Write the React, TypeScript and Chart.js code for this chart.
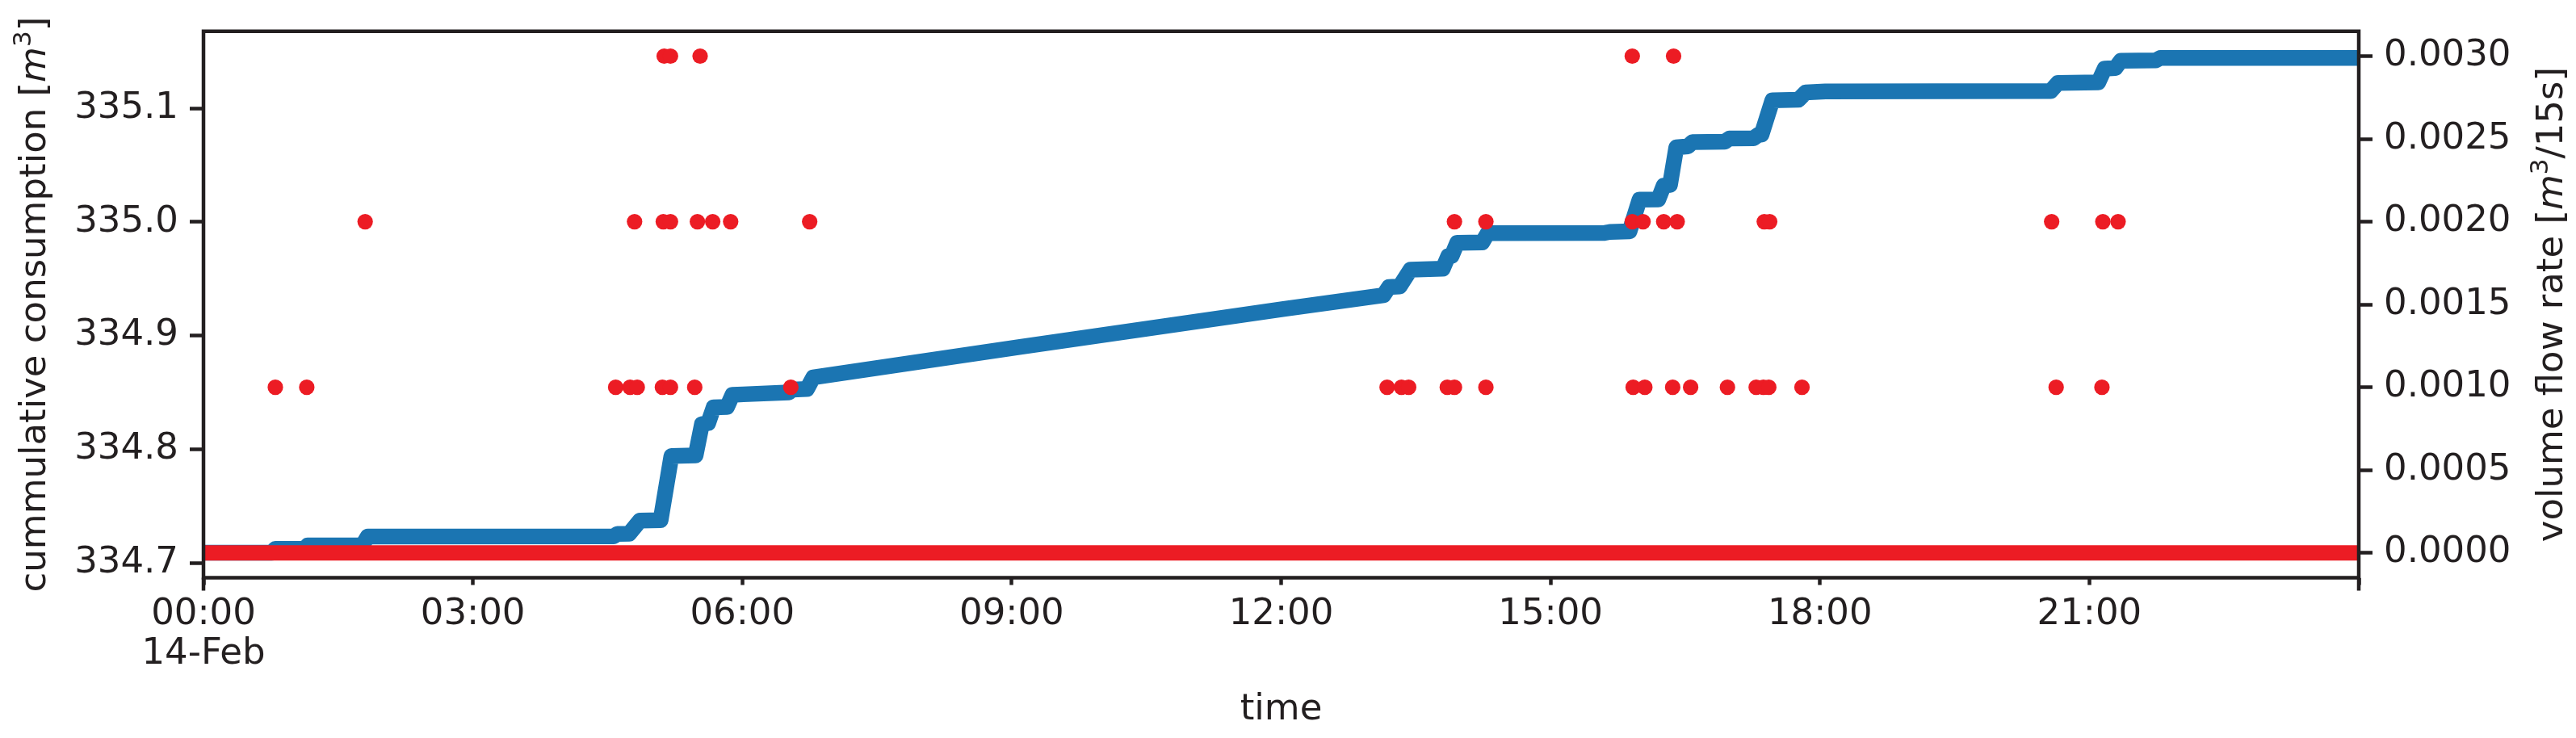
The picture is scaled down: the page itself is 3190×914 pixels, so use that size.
import React, { useEffect, useRef } from "react";
import { Chart, registerables } from "chart.js";

Chart.register(...registerables);

// ---------- data ----------
const xTickHours = [0, 3, 6, 9, 12, 15, 18, 21, 24];
const xTickLabels: (string | string[])[] = [
  ["00:00", "14-Feb"], "03:00", "06:00", "09:00", "12:00", "15:00", "18:00", "21:00", "",
];
const leftTicks = [334.7, 334.8, 334.9, 335.0, 335.1];
const rightTicks = [0, 0.0005, 0.001, 0.0015, 0.002, 0.0025, 0.003];

const consumptionHours = [
  0.0, 0.76, 0.8, 1.13, 1.16, 1.77, 1.83, 4.57, 4.61, 4.74, 4.86, 5.09, 5.21, 5.48, 5.55,
  5.62, 5.68, 5.83, 5.89, 6.01, 6.52, 6.56, 6.72, 6.79, 9.08, 12.03, 13.14, 13.2, 13.32,
  13.44, 13.8, 13.86, 13.9, 13.96, 14.24, 14.3, 15.6, 15.66, 15.88, 15.99, 16.2, 16.26,
  16.33, 16.4, 16.53, 16.58, 16.94, 16.99, 17.26, 17.31, 17.35, 17.47, 17.76, 17.84, 18.06,
  20.57, 20.65, 21.1, 21.17, 21.29, 21.35, 21.74, 21.79, 24.0,
];
const consumptionValues = [
  334.709, 334.709, 334.7123, 334.7125, 334.7153, 334.7155, 334.7232, 334.7234, 334.7254,
  334.7256, 334.7372, 334.7375, 334.794, 334.7945, 334.822, 334.823, 334.8368, 334.8372,
  334.8478, 334.8483, 334.85, 334.8525, 334.853, 334.8632, 334.8898, 334.9235, 334.9355,
  334.9427, 334.9432, 334.958, 334.9588, 334.9699, 334.9702, 334.9816, 334.982, 334.9901,
  334.9903, 334.9912, 334.9918, 335.0196, 335.0198, 335.032, 335.0325, 335.0656, 335.0665,
  335.0703, 335.0706, 335.0734, 335.0737, 335.0765, 335.077, 335.107, 335.1075, 335.1139,
  335.1149, 335.1152, 335.1223, 335.1228, 335.135, 335.1355, 335.1419, 335.1422, 335.1444,
  335.1444,
];

// non-zero flow readings
const flowHours = [
  0.8, 1.15, 4.59, 4.75, 4.83, 5.11, 5.2, 5.47, 6.54, 13.18, 13.34, 13.42, 13.85, 13.93,
  14.28, 15.92, 16.05, 16.36, 16.56, 16.97, 17.29, 17.37, 17.43, 17.8, 20.63, 21.14,
  1.8, 4.8, 5.12, 5.2, 5.5, 5.67, 5.87, 6.75, 13.93, 14.28, 15.91, 16.03, 16.26, 16.41,
  17.38, 17.44, 20.58, 21.15, 21.32,
  5.13, 5.2, 5.53, 15.91, 16.37,
];
const flowValues = [
  0.001, 0.001, 0.001, 0.001, 0.001, 0.001, 0.001, 0.001, 0.001, 0.001, 0.001, 0.001,
  0.001, 0.001, 0.001, 0.001, 0.001, 0.001, 0.001, 0.001, 0.001, 0.001, 0.001, 0.001,
  0.001, 0.001,
  0.002, 0.002, 0.002, 0.002, 0.002, 0.002, 0.002, 0.002, 0.002, 0.002, 0.002, 0.002,
  0.002, 0.002, 0.002, 0.002, 0.002, 0.002, 0.002,
  0.003, 0.003, 0.003, 0.003, 0.003,
];
// zero readings cover the whole day
const zeroFlowHours = [0, 24];
const zeroFlowValues = [0, 0];

// ---------- styles ----------
const INK = "#231f20";
const BLUE = "#1b75b2";
const RED = "#ec1c24";
const FONT = "DejaVu Sans";
const FS = 45;

type Part = { t: string; italic?: boolean; sup?: boolean };
const leftTitle: Part[] = [
  { t: "cummulative consumption [" },
  { t: "m", italic: true },
  { t: "3", sup: true },
  { t: "]" },
];
const rightTitle: Part[] = [
  { t: "volume flow rate [" },
  { t: "m", italic: true },
  { t: "3", sup: true },
  { t: "/15s]" },
];

function partFont(p: Part) {
  if (p.sup) return `${Math.round(FS * 0.7)}px "${FONT}"`;
  return `${p.italic ? "italic " : ""}${FS}px "${FONT}"`;
}

function drawRotatedTitle(ctx: CanvasRenderingContext2D, parts: Part[], baselineX: number, centerY: number) {
  ctx.save();
  ctx.translate(baselineX, centerY);
  ctx.rotate(-Math.PI / 2);
  ctx.fillStyle = INK;
  ctx.textBaseline = "alphabetic";
  ctx.textAlign = "left";
  let total = 0;
  const widths = parts.map((p) => {
    ctx.font = partFont(p);
    const w = ctx.measureText(p.t).width;
    total += w;
    return w;
  });
  let x = -total / 2;
  parts.forEach((p, i) => {
    ctx.font = partFont(p);
    ctx.fillText(p.t, x, p.sup ? -FS * 0.4 : 0);
    x += widths[i];
  });
  ctx.restore();
}

const framePlugin = {
  id: "frame",
  afterDraw(chart: any) {
    const { ctx, chartArea: a } = chart;
    ctx.save();
    ctx.strokeStyle = INK;
    ctx.lineWidth = 4.5;
    ctx.lineCap = "butt";
    ctx.lineJoin = "miter";
    ctx.strokeRect(a.left, a.top, a.right - a.left, a.bottom - a.top);
    ctx.beginPath();
    ctx.moveTo(a.left, a.bottom);
    ctx.lineTo(a.left, a.bottom + 16);
    ctx.moveTo(a.right, a.bottom);
    ctx.lineTo(a.right, a.bottom + 16);
    ctx.stroke();
    ctx.restore();
    const cy = (a.top + a.bottom) / 2;
    drawRotatedTitle(ctx, leftTitle, 56, cy);
    drawRotatedTitle(ctx, rightTitle, 3173, cy);
  },
};

export default function App() {
  const ref = useRef<HTMLCanvasElement>(null);

  useEffect(() => {
    const canvas = ref.current;
    if (!canvas) return;
    const tickFont = { family: FONT, size: FS, lineHeight: 1.1 };
    const chart = new Chart(canvas, {
      type: "scatter",
      data: {
        datasets: [
          {
            type: "scatter",
            label: "flow",
            data: flowHours.map((h, i) => ({ x: h, y: flowValues[i] })),
            yAxisID: "y1",
            backgroundColor: RED,
            borderWidth: 0,
            pointRadius: 9.6,
            order: 0,
          } as any,
          {
            type: "line",
            label: "flow zero",
            data: zeroFlowHours.map((h, i) => ({ x: h, y: zeroFlowValues[i] })),
            yAxisID: "y1",
            borderColor: RED,
            borderWidth: 19,
            borderCapStyle: "butt",
            pointRadius: 0,
            tension: 0,
            clip: 0,
            order: 1,
          } as any,
          {
            type: "line",
            label: "consumption",
            data: consumptionHours.map((h, i) => ({ x: h, y: consumptionValues[i] })),
            yAxisID: "y",
            borderColor: BLUE,
            borderWidth: 19.5,
            borderCapStyle: "round",
            borderJoinStyle: "round",
            pointRadius: 0,
            tension: 0,
            clip: 0,
            order: 2,
          } as any,
        ],
      },
      options: {
        responsive: false,
        devicePixelRatio: 1,
        animation: false,
        events: [],
        layout: { padding: { top: 26.5, left: 0, right: 0, bottom: 0 } },
        plugins: { legend: { display: false }, tooltip: { enabled: false } },
        scales: {
          x: {
            type: "linear",
            position: "bottom",
            min: 0,
            max: 24,
            afterFit: (s: any) => {
              s.height = 198.5;
            },
            afterBuildTicks: (s: any) => {
              s.ticks = xTickHours.map((v) => ({ value: v }));
            },
            grid: {
              display: true,
              drawOnChartArea: false,
              drawTicks: true,
              tickLength: 9,
              tickWidth: 4.5,
              tickColor: INK,
            },
            border: { display: false },
            ticks: {
              autoSkip: false,
              maxRotation: 0,
              minRotation: 0,
              padding: 12,
              color: INK,
              font: tickFont,
              callback: (_v: any, i: number) => xTickLabels[i],
            },
            title: {
              display: true,
              text: "time",
              color: INK,
              font: { family: FONT, size: FS, lineHeight: 1.2 },
              padding: { top: 0, bottom: 8 },
            },
          },
          y: {
            type: "linear",
            position: "left",
            min: 334.6869,
            max: 335.1678,
            afterFit: (s: any) => {
              s.width = 252;
            },
            afterBuildTicks: (s: any) => {
              s.ticks = leftTicks.map((v) => ({ value: v }));
            },
            grid: {
              display: true,
              drawOnChartArea: false,
              drawTicks: true,
              tickLength: 17,
              tickWidth: 4.5,
              tickColor: INK,
            },
            border: { display: false },
            ticks: {
              padding: 14,
              color: INK,
              font: tickFont,
              callback: (v: any) => Number(v).toFixed(1),
            },
          },
          y1: {
            type: "linear",
            position: "right",
            min: -0.00015,
            max: 0.00315,
            afterFit: (s: any) => {
              s.width = 269;
            },
            afterBuildTicks: (s: any) => {
              s.ticks = rightTicks.map((v) => ({ value: v }));
            },
            grid: {
              display: true,
              drawOnChartArea: false,
              drawTicks: true,
              tickLength: 17,
              tickWidth: 4.5,
              tickColor: INK,
            },
            border: { display: false },
            ticks: {
              padding: 14,
              color: INK,
              font: tickFont,
              callback: (v: any) => Number(v).toFixed(4),
            },
          },
        },
      } as any,
      plugins: [framePlugin],
    });
    return () => chart.destroy();
  }, []);

  return (
    <div style={{ position: "absolute", left: 0, top: 0, width: 3190, height: 914, background: "#ffffff" }}>
      <canvas ref={ref} width={3190} height={914} style={{ width: 3190, height: 914, display: "block" }} />
    </div>
  );
}
